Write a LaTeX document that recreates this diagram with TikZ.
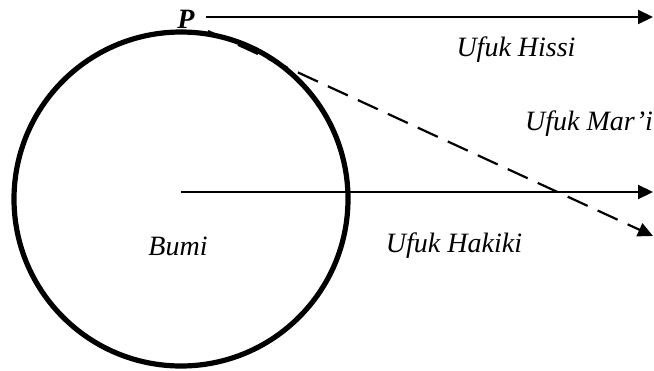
\documentclass[tikz,border=0pt]{standalone}
\usepackage{fontspec}
\setmainfont{Liberation Serif}
\usetikzlibrary{arrows.meta, positioning}
\tikzset{
  ufuk/.style={line width=1.1pt, -{Triangle[length=7.5pt,width=7pt]}},
  lbl/.style={font=\fontsize{14}{16}\selectfont\itshape, inner sep=0pt}}

\begin{document}
\begin{tikzpicture}[x=0.5pt, y=-0.5pt]
  \useasboundingbox (0,0) rectangle (654,370);
  \coordinate (o) at (181,199);
  \coordinate (h) at (181,192);
  \coordinate (hend) at (653,192);
  \coordinate (s) at (206,17);
  \coordinate (send) at (653,17);
  \coordinate (m) at (208,31);
  \coordinate (mend) at (653,236);
  \draw [line width=2.6pt] (o) circle (167);
  \draw [ufuk] (s) -- (send);
  \draw [ufuk] (h) -- (hend);
  \draw [ufuk, dash pattern=on 11pt off 5.5pt] (m) -- (mend);
  \node [lbl, font=\fontsize{14}{16}\selectfont\bfseries\itshape] (p) at (186,19) {P};
  \node [lbl] (hissi) at (516,50) {Ufuk Hissi};
  \node [lbl] (mari) at (589,124) {Ufuk Mar’i};
  \node [lbl] (hakiki) at (454,246) {Ufuk Hakiki};
  \node [lbl] (bumi) at (178,246) {Bumi};
\end{tikzpicture}
\end{document}
